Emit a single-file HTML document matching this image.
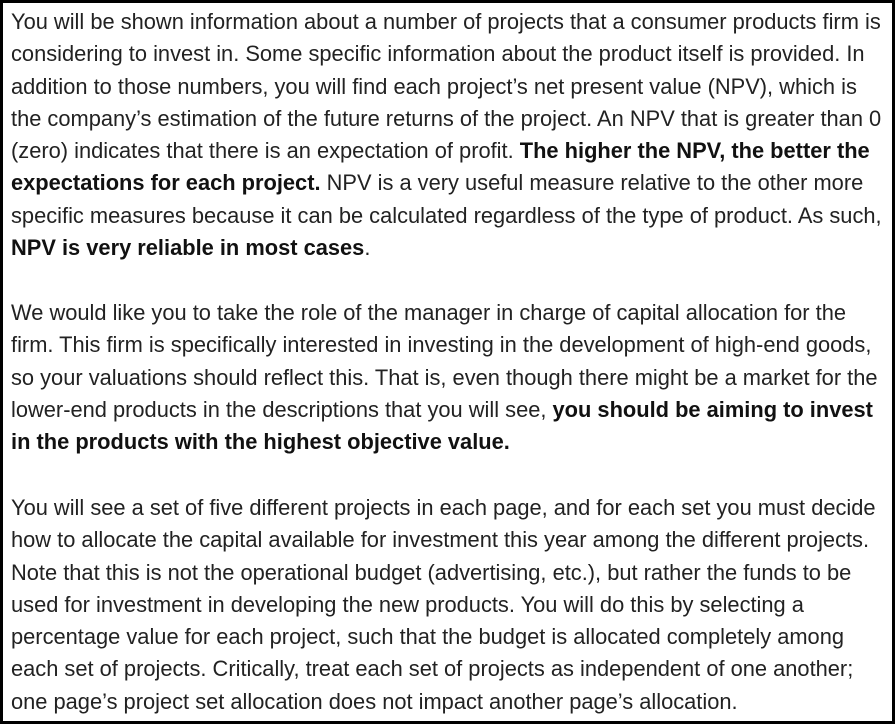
<!DOCTYPE html>
<html><head><meta charset="utf-8">
<style>
html,body{margin:0;padding:0;background:#fff;}
#box{position:absolute;left:0;top:0;width:895px;height:724px;box-sizing:border-box;border:3px solid #000;background:#fff;}
.p{position:absolute;left:8px;font-family:"Liberation Sans",Arial,sans-serif;font-size:21.85px;color:#222;line-height:32.3px;white-space:nowrap;}
b{font-weight:bold;color:#111;}
</style></head>
<body>
<div id="box">
<div class="p" style="top:3px">
You will be shown information about a number of projects that a consumer products firm is<br>
considering to invest in. Some specific information about the product itself is provided. In<br>
addition to those numbers, you will find each project’s net present value (NPV), which is<br>
the company’s estimation of the future returns of the project. An NPV that is greater than 0<br>
(zero) indicates that there is an expectation of profit. <b>The higher the NPV, the better the</b><br>
<b>expectations for each project.</b> NPV is a very useful measure relative to the other more<br>
specific measures because it can be calculated regardless of the type of product. As such,<br>
<b>NPV is very reliable in most cases</b>.
</div>
<div class="p" style="top:294px">
We would like you to take the role of the manager in charge of capital allocation for the<br>
firm. This firm is specifically interested in investing in the development of high-end goods,<br>
so your valuations should reflect this. That is, even though there might be a market for the<br>
lower-end products in the descriptions that you will see, <b>you should be aiming to invest</b><br>
<b>in the products with the highest objective value.</b>
</div>
<div class="p" style="top:489px">
You will see a set of five different projects in each page, and for each set you must decide<br>
how to allocate the capital available for investment this year among the different projects.<br>
Note that this is not the operational budget (advertising, etc.), but rather the funds to be<br>
used for investment in developing the new products. You will do this by selecting a<br>
percentage value for each project, such that the budget is allocated completely among<br>
each set of projects. Critically, treat each set of projects as independent of one another;<br>
one page’s project set allocation does not impact another page’s allocation.
</div>
</div>
</body></html>
